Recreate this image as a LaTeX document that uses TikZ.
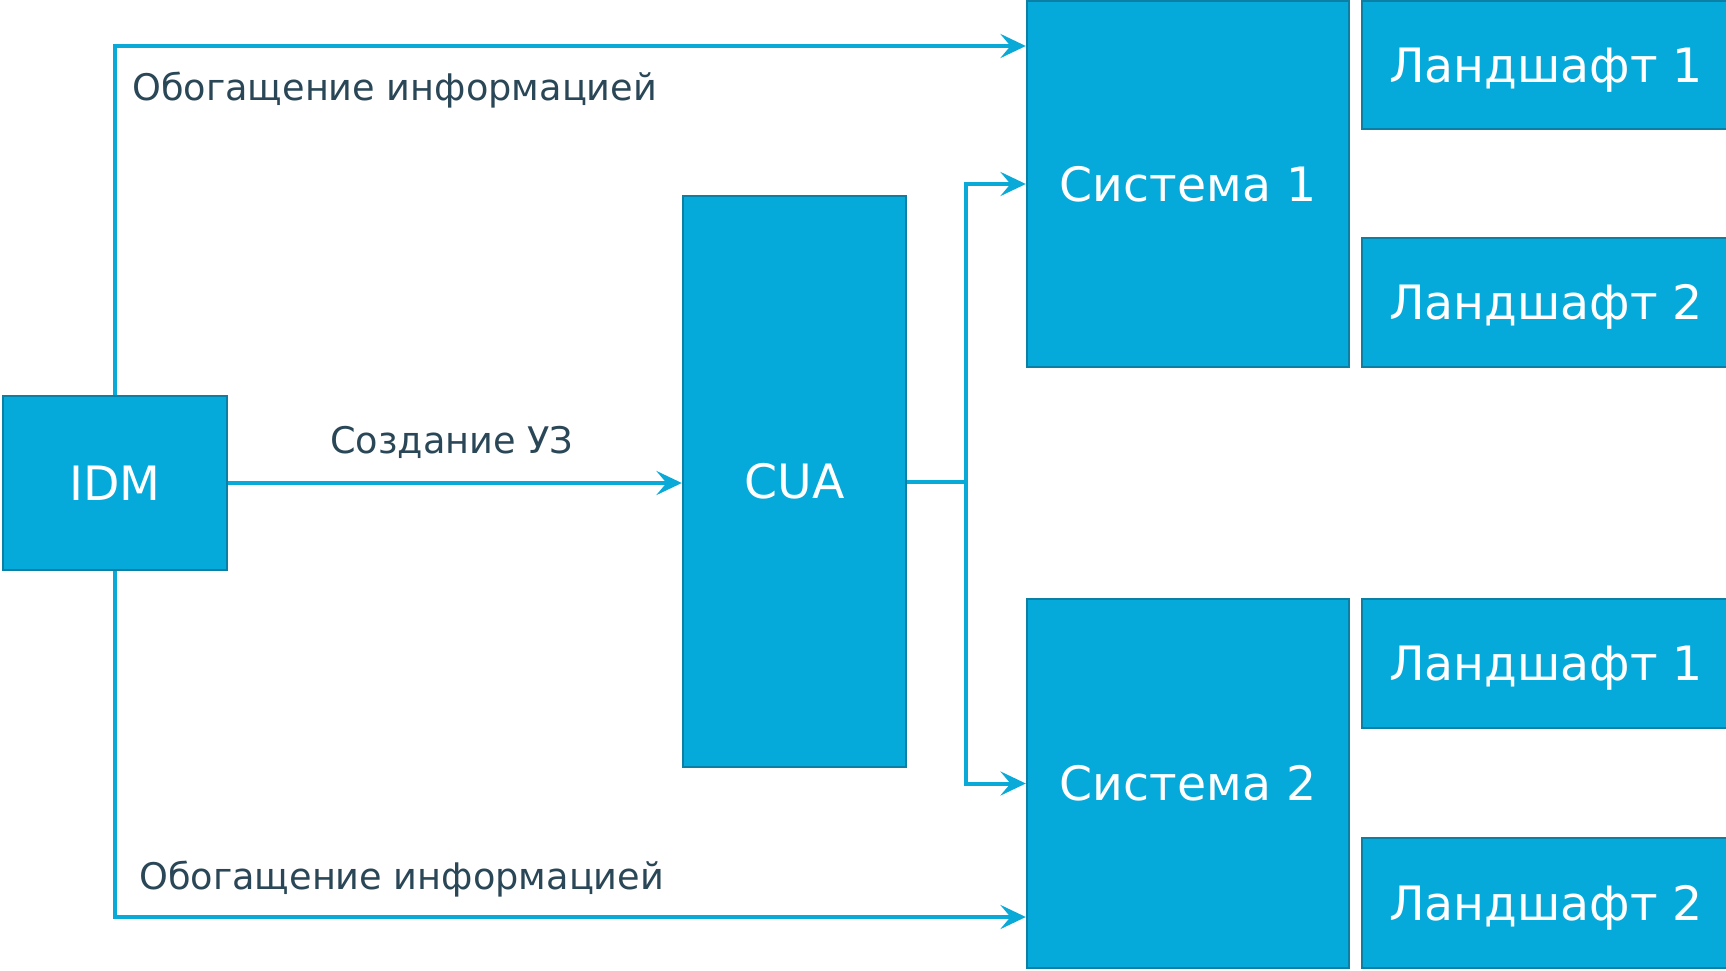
\documentclass[tikz,border=0pt]{standalone}
\usepackage{fontspec}
\setmainfont{DejaVu Sans}
\usetikzlibrary{arrows.meta}
\definecolor{boxfill}{HTML}{05AADA}
\definecolor{boxline}{HTML}{0B7FA4}
\definecolor{conncol}{HTML}{0AAAD8}
\definecolor{labcol}{HTML}{2A4757}
\def\px{0.75pt}
\tikzset{
  blk/.style={draw=boxline, fill=boxfill, line width=1.8pt, inner sep=0pt,
    text=white, font=\fontsize{35.5pt}{40pt}\selectfont, text height=25.9pt, text depth=0pt},
  conn/.style={draw=conncol, line width=3pt,
    -{Stealth[length=19pt, width=18pt, inset=7.5pt]}},
  plainconn/.style={draw=conncol, line width=3pt},
  lab/.style={text=labcol, font=\fontsize{27.5pt}{30pt}\selectfont, inner sep=0pt, anchor=base west}
}
\begin{document}
\begin{tikzpicture}[x=0.75pt, y=-0.75pt]
\useasboundingbox (0,0) rectangle (1726,970);
\fill[white] (0,0) rectangle (1726,970);
% boxes
\node[blk, minimum width=224*\px, minimum height=174*\px] (idm) at (115,483) {IDM};
\node[blk, minimum width=223*\px, minimum height=571*\px] (cua) at (794.5,481.5) {CUA};
\node[blk, minimum width=322*\px, minimum height=366*\px] (sys1) at (1188,184) {Система 1};
\node[blk, minimum width=368*\px, minimum height=128*\px] (l11) at (1546,65) {Ландшафт 1};
\node[blk, minimum width=368*\px, minimum height=129*\px] (l12) at (1546,302.5) {Ландшафт 2};
\node[blk, minimum width=322*\px, minimum height=369*\px] (sys2) at (1188,783.5) {Система 2};
\node[blk, minimum width=368*\px, minimum height=129*\px] (l21) at (1546,663.5) {Ландшафт 1};
\node[blk, minimum width=368*\px, minimum height=130*\px] (l22) at (1546,903) {Ландшафт 2};
% helper coordinates
\coordinate (ytop) at (0,46);
\coordinate (ybot) at (0,917);
\coordinate (split) at (966,482);
% connectors
\draw[conn] (idm.north) |- (sys1.west |- ytop);
\draw[conn] (idm.south) |- (sys2.west |- ybot);
\draw[conn] (idm.east) -- (cua.west |- idm.east);
\draw[plainconn] (cua.east |- split) -- (split);
\draw[conn] (split) |- (sys1.west);
\draw[conn] (split) |- (sys2.west);
% labels
\node[lab] (t1) at (132,101) {Обогащение информацией};
\node[lab] (t2) at (330,453) {Создание УЗ};
\node[lab] (t3) at (139,889) {Обогащение информацией};
\end{tikzpicture}
\end{document}
